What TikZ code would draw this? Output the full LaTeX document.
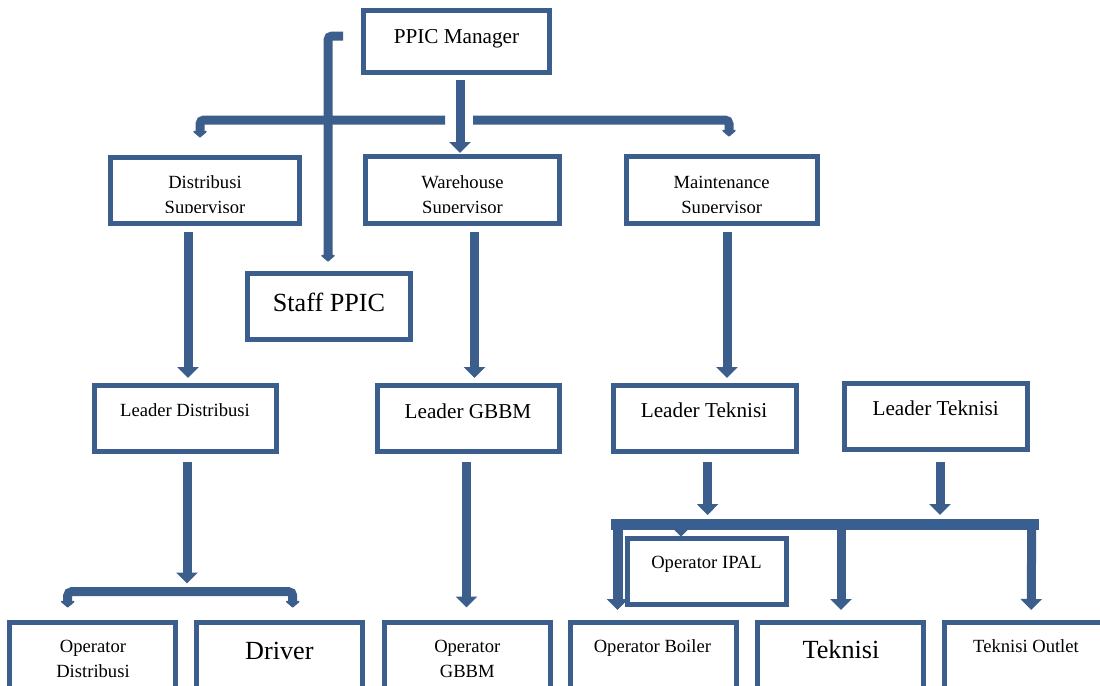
\documentclass[tikz,border=0pt]{standalone}
\usepackage{fontspec}
\setmainfont{Liberation Serif}
\usetikzlibrary{arrows.meta,calc}
\definecolor{wb}{HTML}{3B5E8C}
\definecolor{wl}{HTML}{2266B0}
\newcommand\obox[5]{\node[box, minimum width={(#4-#2)*0.5pt}, minimum height={(#5-#3)*0.5pt}] (#1) at ({(#2+#4)/2},{(#3+#5)/2}) {};}
\tikzset{
  box/.style={draw=wb, fill=white, line width=2.5pt, rectangle, inner sep=0pt, outer sep=0pt},
  conn/.style={draw=wb, line width=4.5pt, -{Triangle[length=5.5pt,width=10.5pt]}},
  tee/.style={draw=wb, line width=4.5pt, rounded corners=2pt, -{Triangle[length=3.5pt,width=8pt,round]}},
  ts/.style={font=\fontsize{9.3}{11}\selectfont, anchor=base, inner sep=0pt},
  tmd/.style={font=\fontsize{10.6}{12}\selectfont, anchor=base, inner sep=0pt},
  tlg/.style={font=\fontsize{13.1}{15}\selectfont, anchor=base, inner sep=0pt},
}
\begin{document}
\begin{tikzpicture}[x=0.5pt,y=-0.5pt]
\useasboundingbox (0,0) rectangle (1100,686);
\clip (0,0) rectangle (1100,686);

% boxes (border centre lines)
\obox{mgr}{363.5}{10.5}{549.5}{72.5}
\obox{dsup}{110.5}{157.5}{299.5}{223.5}
\obox{wsup}{365.5}{156.5}{559.5}{223.5}
\obox{msup}{626.5}{156.5}{817.5}{223.5}
\obox{staff}{247.5}{273.5}{410.5}{339.5}
\obox{ldist}{94.5}{385.5}{276.5}{451.5}
\obox{lgbbm}{377.5}{385.5}{559.5}{451.5}
\obox{ltekA}{613.5}{385.5}{796.5}{451.5}
\obox{ltekB}{844.5}{383.5}{1027.5}{449.5}
\obox{opdist}{9.5}{622.5}{175.5}{710}
\obox{driver}{196.5}{622.5}{362.5}{710}
\obox{opgbbm}{384.5}{622.5}{550.5}{710}
\obox{boiler}{570.5}{622.5}{736.5}{710}
\obox{teknisi}{757.5}{622.5}{923.5}{710}
\obox{outlet}{944.5}{622.5}{1112}{710}

% connectors
\coordinate (tl) at (445,120);
\coordinate (tr) at (473,120);
\coordinate (st) at (343,36);
\draw[conn] ($(mgr.south)+(3.5,7.5)$) -- ($(wsup.north)+(-2.5,-3.5)$);
\draw[tee] (tl) -| ($(dsup.north)+(-5,-20)$);
\draw[tee] (tr) -| ($(msup.north)+(7,-20)$);
\draw[tee] (st) -| ($(staff.north)+(-1,-12)$);
\draw[conn] ($(dsup.south)+(-17,8.5)$) -- ($(ldist.north)+(2.5,-7.5)$);
\draw[conn] ($(wsup.south)+(12,8.5)$) -- ($(lgbbm.north)+(6,-7.5)$);
\draw[conn] ($(msup.south)+(5,8.5)$) -- ($(ltekA.north)+(22,-7.5)$);

% distribusi branch
\coordinate (dbar) at (187,591.7);
\draw[tee] (dbar) -| ($(opdist.north)+(-24.8,-15)$);
\draw[tee] (dbar) -| ($(driver.north)+(13.2,-15)$);
\draw[conn] ($(ldist.south)+(1.5,10.5)$) -- ($(ldist.south)+(1.5,132)$);

% gbbm branch
\draw[conn] ($(lgbbm.south)+(-2,10.5)$) -- ($(opgbbm.north)+(-1,-15)$);

% teknisi branch
\coordinate (bl) at (611,524);
\coordinate (br) at (1038.6,524);
\coordinate (b0) at (681,524);
\coordinate (b1) at (617.5,524);
\coordinate (b2) at (841,524);
\coordinate (b3) at (1031.7,524);
\draw[conn] ($(ltekA.south)+(2.6,10.5)$) -- ($(ltekA.south)+(2.6,63.5)$);
\draw[conn] ($(ltekB.south)+(4,12.5)$) -- ($(ltekB.south)+(4,65.5)$);
\draw[conn] (b0) -- ($(b0)+(0,12.7)$);
\draw[conn, line width=5pt] (b1) -- ($(boiler.north)+(-36,-12.5)$);
\draw[conn] (b2) -- ($(teknisi.north)+(0.5,-12.5)$);
\draw[conn] (b3) -- ($(outlet.north)+(3,-12.5)$);
\draw[wb, line width=5.5pt] (bl) -- (br);
\draw[wl, line width=0.7pt] ($(bl)+(2,1.5)$) -- ($(br)+(-2,1.5)$);

\obox{ipal}{627.5}{538.5}{786.5}{604.5}

% texts
\node[tmd] (tmgr) at (456.5,43) {PPIC Manager};
\begin{scope}
\clip (100,150) rectangle (830,212);
\node[ts] (tdsupA) at (205,188) {Distribusi};
\node[ts] (tdsupB) at (205,213) {Supervisor};
\node[ts] (twsupA) at (462.5,188) {Warehouse};
\node[ts] (twsupB) at (462.5,213) {Supervisor};
\node[ts] (tmsupA) at (721.7,188) {Maintenance};
\node[ts] (tmsupB) at (721.7,213) {Supervisor};
\end{scope}
\node[tlg] (tstaff) at (329,311.3) {Staff PPIC};
\node[ts] (tldist) at (185,416.8) {Leader Distribusi};
\node[tmd] (tlgbbm) at (468,418.7) {Leader GBBM};
\node[tmd] (tltekA) at (704,417) {Leader Teknisi};
\node[tmd] (tltekB) at (935.7,415.3) {Leader Teknisi};
\node[ts] (tipal) at (706.5,568.8) {Operator IPAL};
\node[ts] (topdA) at (93,652.8) {Operator};
\node[ts] (topdB) at (93,677.8) {Distribusi};
\node[tlg] (tdriver) at (279.3,659.3) {Driver};
\node[ts] (topgA) at (467.3,652.8) {Operator};
\node[ts] (topgB) at (467.3,677.8) {GBBM};
\node[ts] (tboiler) at (652.4,652.8) {Operator Boiler};
\node[tlg] (tteknisi) at (841,658.6) {Teknisi};
\node[ts] (toutlet) at (1026,652.8) {Teknisi Outlet};
\end{tikzpicture}
\end{document}
